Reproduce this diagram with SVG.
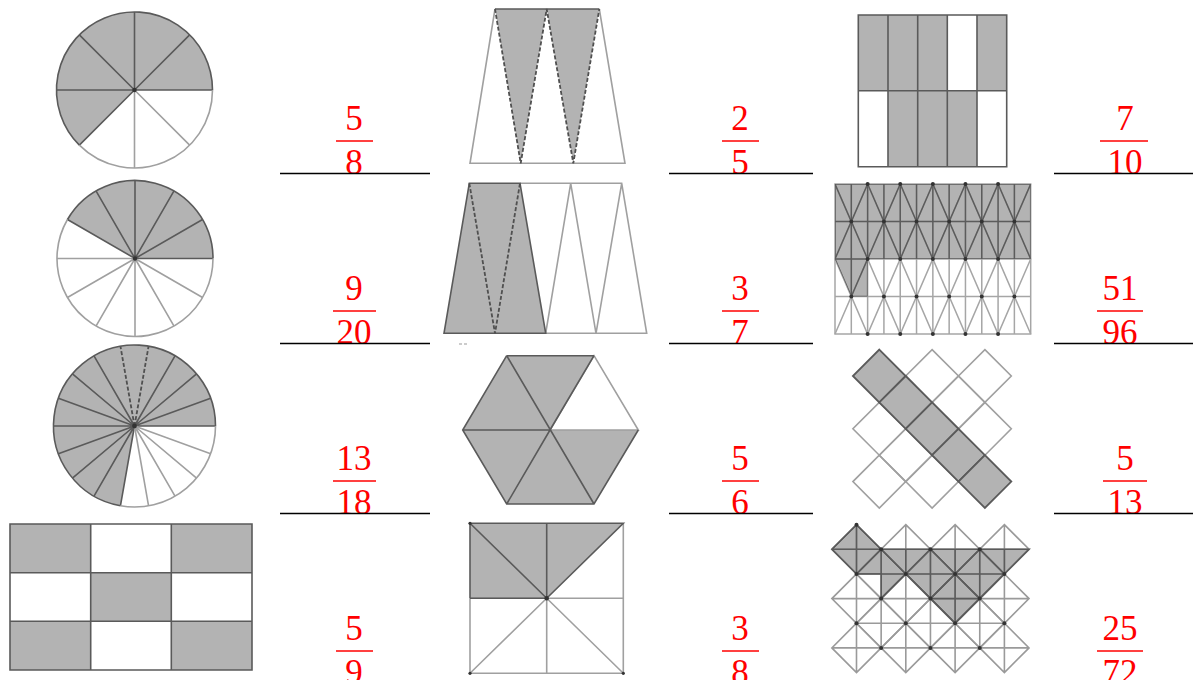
<svg xmlns="http://www.w3.org/2000/svg" xmlns:xlink="http://www.w3.org/1999/xlink" width="1193" height="680" viewBox="0 0 1193 680">
<style>
.sh{fill:#b3b3b3;stroke:none}
.dk{fill:none;stroke:#5a5a5a;stroke-width:1.6}
.lt{fill:none;stroke:#a0a0a0;stroke-width:1.6}
.ds{fill:none;stroke:#505050;stroke-width:1.8;stroke-dasharray:4 2}
.dot{fill:#333}
.num{font-family:"Liberation Serif","DejaVu Serif",serif;font-size:35px;fill:#ff0000;text-anchor:middle}
.bar{stroke:#ff0000;stroke-width:1.5}
.ul{stroke:#000;stroke-width:1.5}
</style>
<defs>
<path id="dm26" d="M0,-26.4 L26.4,0 L0,26.4 L-26.4,0 Z"/>
<path id="dmx" d="M0,-24.65 L24.65,0 L0,24.65 L-24.65,0 Z M0,-24.65 V24.65 M-24.65,0 H24.65"/>
<clipPath id="tclip"><path d="M835,184 L1030.69,184 L1030.69,259 L867.62,259 L867.62,296.5 L851.31,296.5 L835,259 Z"/></clipPath>
<clipPath id="xclip"><path d="M831.85,549.3 L856.5,524.65 L881.15,549.3 L1029.05,549.3 L1004.4,573.95 L955.1,623.25 L905.8,573.95 L881.15,598.6 L881.15,573.95 L856.5,573.95 Z"/></clipPath>
<g id="tgrid">
<path d="M835,184 H1030.69 V334 H835 Z M835,221.5 H1030.69 M835,259 H1030.69 M835,296.5 H1030.69 M851.31,184 V334 M867.62,184 V334 M883.92,184 V334 M900.23,184 V334 M916.54,184 V334 M932.85,184 V334 M949.15,184 V334 M965.46,184 V334 M981.77,184 V334 M998.08,184 V334 M1014.38,184 V334"/>
<polyline points="835,184 851.31,221.5 867.62,184 883.92,221.5 900.23,184 916.54,221.5 932.85,184 949.15,221.5 965.46,184 981.77,221.5 998.08,184 1014.38,221.5 1030.69,184"/>
<polyline points="835,259 851.31,221.5 867.62,259 883.92,221.5 900.23,259 916.54,221.5 932.85,259 949.15,221.5 965.46,259 981.77,221.5 998.08,259 1014.38,221.5 1030.69,259"/>
<polyline points="835,259 851.31,296.5 867.62,259 883.92,296.5 900.23,259 916.54,296.5 932.85,259 949.15,296.5 965.46,259 981.77,296.5 998.08,259 1014.38,296.5 1030.69,259"/>
<polyline points="835,334 851.31,296.5 867.62,334 883.92,296.5 900.23,334 916.54,296.5 932.85,334 949.15,296.5 965.46,334 981.77,296.5 998.08,334 1014.38,296.5 1030.69,334"/>
</g>
<g id="xgrid">
<use xlink:href="#dmx" x="856.5" y="549.3"/><use xlink:href="#dmx" x="905.8" y="549.3"/><use xlink:href="#dmx" x="955.1" y="549.3"/><use xlink:href="#dmx" x="1004.4" y="549.3"/>
<use xlink:href="#dmx" x="856.5" y="598.6"/><use xlink:href="#dmx" x="905.8" y="598.6"/><use xlink:href="#dmx" x="955.1" y="598.6"/><use xlink:href="#dmx" x="1004.4" y="598.6"/>
<use xlink:href="#dmx" x="856.5" y="647.9"/><use xlink:href="#dmx" x="905.8" y="647.9"/><use xlink:href="#dmx" x="955.1" y="647.9"/><use xlink:href="#dmx" x="1004.4" y="647.9"/>
<use xlink:href="#dmx" x="881.15" y="573.95"/><use xlink:href="#dmx" x="930.45" y="573.95"/><use xlink:href="#dmx" x="979.75" y="573.95"/>
<use xlink:href="#dmx" x="881.15" y="623.25"/><use xlink:href="#dmx" x="930.45" y="623.25"/><use xlink:href="#dmx" x="979.75" y="623.25"/>
</g>
</defs>
<rect width="1193" height="680" fill="#fff"/>

<!-- Circle 5/8 -->
<g id="circle8">
<circle cx="134.5" cy="90" r="78" fill="#fff"/>
<path class="sh" d="M134.5,90 L212.5,90 A78,78 0 1 0 79.35,145.15 Z"/>
<path class="dk" d="M134.5,90 L212.5,90 M134.5,90 L189.65,34.85 M134.5,90 L134.5,12 M134.5,90 L79.35,34.85 M134.5,90 L56.5,90 M134.5,90 L79.35,145.15"/>
<path class="lt" d="M134.5,90 L134.5,168 M134.5,90 L189.65,145.15"/>
<path class="dk" d="M212.5,90 A78,78 0 1 0 79.35,145.15"/>
<path class="lt" d="M79.35,145.15 A78,78 0 0 0 212.5,90"/>
<circle class="dot" cx="134.5" cy="90" r="2.2"/>
</g>

<!-- Circle 12 slices -->
<g id="circle12">
<circle cx="135" cy="258.5" r="78" fill="#fff"/>
<path class="sh" d="M135,258.5 L213,258.5 A78,78 0 0 0 67.45,219.5 Z"/>
<path class="dk" d="M135,258.5 L213,258.5 M135,258.5 L202.55,219.5 M135,258.5 L174,190.95 M135,258.5 L135,180.5 M135,258.5 L96,190.95 M135,258.5 L67.45,219.5"/>
<path class="lt" d="M135,258.5 L57,258.5 M135,258.5 L67.45,297.5 M135,258.5 L96,326.05 M135,258.5 L135,336.5 M135,258.5 L174,326.05 M135,258.5 L202.55,297.5"/>
<path class="dk" d="M213,258.5 A78,78 0 0 0 67.45,219.5"/>
<path class="lt" d="M67.45,219.5 A78,78 0 1 0 213,258.5"/>
<circle class="dot" cx="135" cy="258.5" r="2.2"/>
</g>

<!-- Circle 18 slices -->
<g id="circle18">
<circle cx="134.5" cy="426" r="81" fill="#fff"/>
<path class="sh" d="M134.5,426 L215.5,426 A81,81 0 1 0 120.43,505.77 Z"/>
<path class="dk" d="M134.5,426 L215.5,426 M134.5,426 L210.62,398.3 M134.5,426 L196.55,373.93 M134.5,426 L175,355.85 M134.5,426 L94,355.85 M134.5,426 L72.45,373.93 M134.5,426 L58.38,398.3 M134.5,426 L53.5,426 M134.5,426 L58.38,453.7 M134.5,426 L72.45,478.07 M134.5,426 L94,496.15 M134.5,426 L120.43,505.77"/>
<path class="ds" d="M134.5,426 L148.57,346.23 M134.5,426 L120.43,346.23"/>
<path class="lt" d="M134.5,426 L148.57,505.77 M134.5,426 L175,496.15 M134.5,426 L196.55,478.07 M134.5,426 L210.62,453.7"/>
<path class="dk" d="M215.5,426 A81,81 0 1 0 120.43,505.77"/>
<path class="lt" d="M120.43,505.77 A81,81 0 0 0 215.5,426"/>
<circle class="dot" cx="134.5" cy="426" r="2.4"/>
</g>

<!-- Checker rectangle 5/9 -->
<g id="checker">
<rect class="sh" x="10" y="524" width="80.7" height="48.7"/>
<rect class="sh" x="171.3" y="524" width="80.7" height="48.7"/>
<rect class="sh" x="90.7" y="572.7" width="80.6" height="48.6"/>
<rect class="sh" x="10" y="621.3" width="80.7" height="48.7"/>
<rect class="sh" x="171.3" y="621.3" width="80.7" height="48.7"/>
<path class="dk" d="M10,524 H252 V670 H10 Z M90.7,524 V670 M171.3,524 V670 M10,572.7 H252 M10,621.3 H252"/>
</g>

<!-- Trapezoid 1 -->
<g id="trap1">
<path class="sh" d="M495,9 L546.7,9 L520.7,163.3 Z M546.7,9 L599.3,9 L573.3,163.3 Z"/>
<path class="lt" d="M495,9 L470,163.3 L625,163.3 L599.3,9"/>
<path class="dk" d="M495,9 L599.3,9"/>
<path class="ds" d="M495,9 L520.7,163.3 L546.7,9 L573.3,163.3 L599.3,9"/>
</g>

<!-- Trapezoid 2 -->
<g id="trap2">
<path class="sh" d="M469.3,183.3 L520,183.3 L545.7,333.3 L444,333.3 Z"/>
<path class="lt" d="M520,183.3 L621.7,183.3 L646.7,333.3 L545.7,333.3 L570.7,183.3 L596,333.3 L621.7,183.3"/>
<path class="dk" d="M469.3,183.3 L520,183.3 L545.7,333.3 L444,333.3 Z"/>
<path class="ds" d="M469.3,183.3 L495,333.3 L520,183.3"/>
<path d="M459,344 h3 M464,344 h3" stroke="#999" stroke-width="1"/>
</g>

<!-- Hexagon 5/6 -->
<g id="hexagon">
<path class="sh" d="M506.7,355.7 L594,355.7 L550,430 L638.3,430 L594,504 L506.7,504 L462.7,430 Z"/>
<path class="lt" d="M594,355.7 L638.3,430 L550,430 Z"/>
<path class="dk" d="M506.7,355.7 L594,355.7 M638.3,430 L594,504 L506.7,504 L462.7,430 L506.7,355.7 M506.7,355.7 L594,504 M594,355.7 L550,430 L506.7,504 M462.7,430 L550,430"/>
</g>

<!-- Square 3/8 -->
<g id="square8">
<path class="sh" d="M470,523.3 L623.3,523.3 L546.7,598.3 L470,598.3 Z"/>
<path class="lt" d="M623.3,523.3 L623.3,673.3 L470,673.3 L470,598.3 M470,598.3 L623.3,598.3 M546.7,598.3 L546.7,673.3 M546.7,598.3 L623.3,673.3 M546.7,598.3 L470,673.3"/>
<path class="dk" d="M470,598.3 L470,523.3 L623.3,523.3 L546.7,598.3 L470,598.3 M470,523.3 L546.7,598.3 M546.7,523.3 L546.7,598.3"/>
<circle class="dot" cx="546.7" cy="598.3" r="2.2"/>
<circle class="dot" cx="470" cy="523.3" r="1.6"/>
<circle class="dot" cx="623.3" cy="673.3" r="1.6"/>
<circle class="dot" cx="470" cy="673.3" r="1.6"/>
</g>

<!-- Rect 10 -->
<g id="rect10">
<rect class="sh" x="858.3" y="15" width="89" height="75.7"/>
<rect class="sh" x="977" y="15" width="29.7" height="75.7"/>
<rect class="sh" x="888" y="90.7" width="89" height="76"/>
<path class="dk" d="M858.3,15 H1006.7 V166.7 H858.3 Z M888,15 V166.7 M917.7,15 V166.7 M947.3,15 V166.7 M977,15 V166.7 M858.3,90.7 H1006.7"/>
</g>

<!-- Triangular grid 51/96 -->
<g id="trigrid">
<path class="sh" d="M835,184 L1030.69,184 L1030.69,259 L867.62,259 L867.62,296.5 L851.31,296.5 L835,259 Z"/>
<use xlink:href="#tgrid" fill="none" stroke="#a6a6a6" stroke-width="1.5"/>
<use xlink:href="#tgrid" fill="none" stroke="#5c5c5c" stroke-width="1.5" clip-path="url(#tclip)"/>
<g class="dot">
<circle cx="867.62" cy="184" r="2"/><circle cx="900.23" cy="184" r="2"/><circle cx="932.85" cy="184" r="2"/><circle cx="965.46" cy="184" r="2"/><circle cx="998.08" cy="184" r="2"/>
<circle cx="851.31" cy="221.5" r="2"/><circle cx="883.92" cy="221.5" r="2"/><circle cx="916.54" cy="221.5" r="2"/><circle cx="949.15" cy="221.5" r="2"/><circle cx="981.77" cy="221.5" r="2"/><circle cx="1014.38" cy="221.5" r="2"/>
<circle cx="867.62" cy="259" r="2"/><circle cx="900.23" cy="259" r="2"/><circle cx="932.85" cy="259" r="2"/><circle cx="965.46" cy="259" r="2"/><circle cx="998.08" cy="259" r="2"/>
<circle cx="851.31" cy="296.5" r="2"/><circle cx="883.92" cy="296.5" r="2"/><circle cx="916.54" cy="296.5" r="2"/><circle cx="949.15" cy="296.5" r="2"/><circle cx="981.77" cy="296.5" r="2"/><circle cx="1014.38" cy="296.5" r="2"/>
<circle cx="867.62" cy="334" r="2"/><circle cx="900.23" cy="334" r="2"/><circle cx="932.85" cy="334" r="2"/><circle cx="965.46" cy="334" r="2"/><circle cx="998.08" cy="334" r="2"/>
</g>
</g>

<!-- Diamond cross 5/13 -->
<g id="diamondcross">
<g class="lt">
<use xlink:href="#dm26" x="932.1" y="376"/>
<use xlink:href="#dm26" x="984.9" y="376"/>
<use xlink:href="#dm26" x="879.3" y="428.8"/>
<use xlink:href="#dm26" x="984.9" y="428.8"/>
<use xlink:href="#dm26" x="879.3" y="481.6"/>
<use xlink:href="#dm26" x="932.1" y="481.6"/>
<use xlink:href="#dm26" x="958.5" y="402.4"/>
<use xlink:href="#dm26" x="905.7" y="455.2"/>
</g>
<g fill="#b3b3b3" stroke="#5a5a5a" stroke-width="1.8">
<use xlink:href="#dm26" x="879.3" y="376"/>
<use xlink:href="#dm26" x="905.7" y="402.4"/>
<use xlink:href="#dm26" x="932.1" y="428.8"/>
<use xlink:href="#dm26" x="958.5" y="455.2"/>
<use xlink:href="#dm26" x="984.9" y="481.6"/>
</g>
</g>

<!-- Diamond X grid 25/72 -->
<g id="diamondx">
<path class="sh" d="M831.85,549.3 L856.5,524.65 L881.15,549.3 L1029.05,549.3 L1004.4,573.95 L955.1,623.25 L905.8,573.95 L881.15,598.6 L881.15,573.95 L856.5,573.95 Z"/>
<use xlink:href="#xgrid" fill="none" stroke="#9a9a9a" stroke-width="1.6"/>
<use xlink:href="#xgrid" fill="none" stroke="#5c5c5c" stroke-width="1.6" clip-path="url(#xclip)"/>
<path class="dk" d="M831.85,549.3 L856.5,524.65 L881.15,549.3 L1029.05,549.3 L1004.4,573.95 L955.1,623.25 L905.8,573.95 L881.15,598.6 L881.15,573.95 L856.5,573.95 Z"/>
<g class="dot">
<circle cx="856.5" cy="524.65" r="2"/><circle cx="881.15" cy="549.3" r="2"/><circle cx="930.45" cy="549.3" r="2"/><circle cx="979.75" cy="549.3" r="2"/>
<circle cx="856.5" cy="573.95" r="2"/><circle cx="905.8" cy="573.95" r="2"/><circle cx="955.1" cy="573.95" r="2"/><circle cx="1004.4" cy="573.95" r="2"/>
<circle cx="881.15" cy="598.6" r="2"/><circle cx="930.45" cy="598.6" r="2"/><circle cx="979.75" cy="598.6" r="2"/>
<circle cx="856.5" cy="623.25" r="2"/><circle cx="905.8" cy="623.25" r="2"/><circle cx="955.1" cy="623.25" r="2"/><circle cx="1004.4" cy="623.25" r="2"/>
<circle cx="881.15" cy="647.9" r="2"/><circle cx="930.45" cy="647.9" r="2"/><circle cx="979.75" cy="647.9" r="2"/>
</g>
</g>

<!-- Fractions -->
<g id="fractions">
<text class="num" x="354" y="130">5</text><line class="bar" x1="336" y1="141" x2="373" y2="141"/><text class="num" x="354" y="174">8</text>
<text class="num" x="740" y="130">2</text><line class="bar" x1="722" y1="141" x2="759" y2="141"/><text class="num" x="740" y="174">5</text>
<text class="num" x="1125" y="130">7</text><line class="bar" x1="1100" y1="141" x2="1148" y2="141"/><text class="num" x="1125" y="174">10</text>
<text class="num" x="354" y="300">9</text><line class="bar" x1="333" y1="311" x2="376" y2="311"/><text class="num" x="354" y="344">20</text>
<text class="num" x="740" y="300">3</text><line class="bar" x1="722" y1="311" x2="759" y2="311"/><text class="num" x="740" y="344">7</text>
<text class="num" x="1120" y="300">51</text><line class="bar" x1="1097" y1="311" x2="1143" y2="311"/><text class="num" x="1120" y="344">96</text>
<text class="num" x="354" y="470">13</text><line class="bar" x1="333" y1="481" x2="376" y2="481"/><text class="num" x="354" y="514">18</text>
<text class="num" x="740" y="470">5</text><line class="bar" x1="722" y1="481" x2="759" y2="481"/><text class="num" x="740" y="514">6</text>
<text class="num" x="1125" y="470">5</text><line class="bar" x1="1103" y1="481" x2="1147" y2="481"/><text class="num" x="1125" y="514">13</text>
<text class="num" x="354" y="640">5</text><line class="bar" x1="336" y1="651" x2="373" y2="651"/><text class="num" x="354" y="684">9</text>
<text class="num" x="740" y="640">3</text><line class="bar" x1="722" y1="651" x2="759" y2="651"/><text class="num" x="740" y="684">8</text>
<text class="num" x="1120" y="640">25</text><line class="bar" x1="1097" y1="651" x2="1143" y2="651"/><text class="num" x="1120" y="684">72</text>
</g>

<!-- Answer lines -->
<g id="lines">
<line class="ul" x1="280" y1="173.5" x2="430" y2="173.5"/>
<line class="ul" x1="669" y1="173.5" x2="813" y2="173.5"/>
<line class="ul" x1="1054" y1="173.5" x2="1193" y2="173.5"/>
<line class="ul" x1="280" y1="343.5" x2="430" y2="343.5"/>
<line class="ul" x1="669" y1="343.5" x2="813" y2="343.5"/>
<line class="ul" x1="1054" y1="343.5" x2="1193" y2="343.5"/>
<line class="ul" x1="280" y1="513.5" x2="430" y2="513.5"/>
<line class="ul" x1="669" y1="513.5" x2="813" y2="513.5"/>
<line class="ul" x1="1054" y1="513.5" x2="1193" y2="513.5"/>
</g>
</svg>
